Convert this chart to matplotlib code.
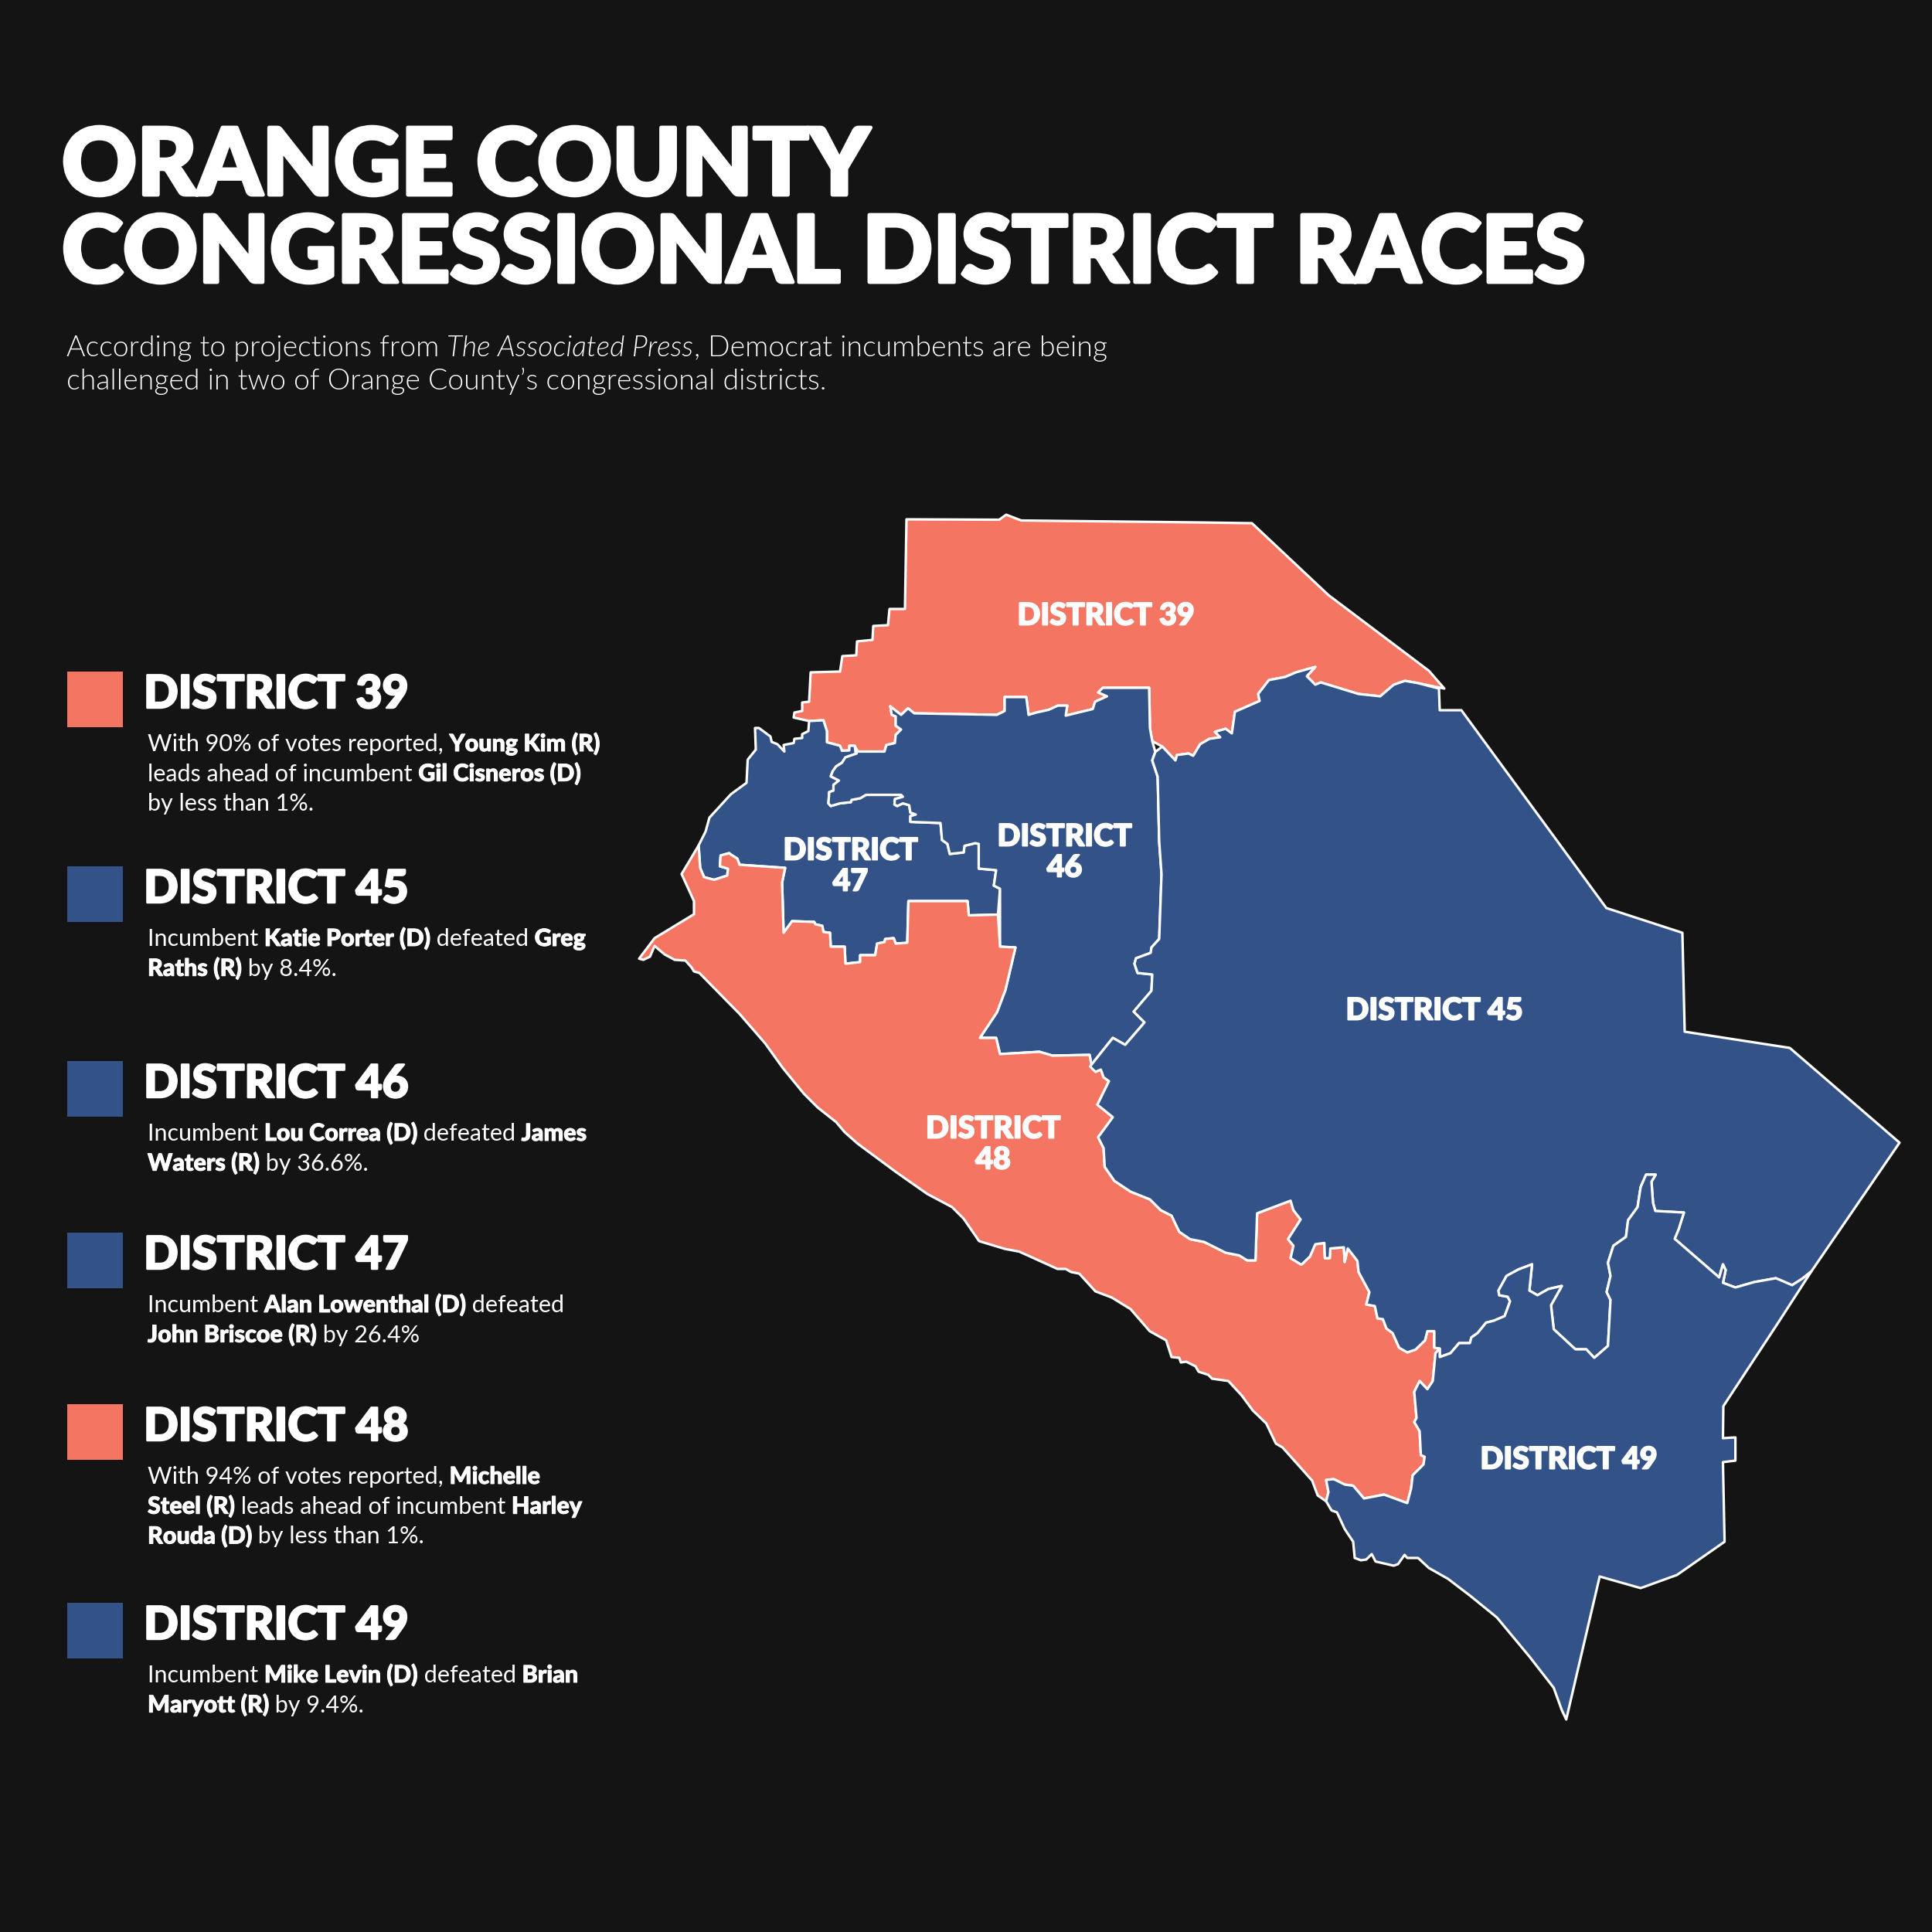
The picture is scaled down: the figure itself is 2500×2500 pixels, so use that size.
import matplotlib
matplotlib.use("Agg")
import matplotlib.pyplot as plt
import matplotlib.patheffects as pe
from matplotlib.patches import Polygon, Rectangle

BG = "#141414"; RED = "#F47562"; BLUE = "#335288"; WHITE = "#FFFFFF"
FONT = "Lato"

# --- boundary traces (reference pixel coordinates) ---
north_39 = [(1173,672),(1293,672.5),(1302,666),(1321.5,673.5),(1550,676),(1620,677),(1719,770),(1849,868),(1869,891)]
b39_45 = [(1835,884),(1818,881),(1803.5,886),(1786,901),(1758,898),(1709,883),(1702,886),(1691,875),(1702,863),(1677,870),
          (1663,876),(1642,880),(1628,898),(1630,907),(1598,921),(1594,949),(1586,943),(1572,947),(1579,954),(1565,956),
          (1553,963),(1544,978),(1538,975),(1523,977),(1521,984),(1504,966)]
b39_46 = [(1491,959),(1488,942),(1487,890),(1427,890),(1421,896),(1432.5,901),(1417,908),(1414,917.5),(1379,926),(1381,913),
          (1369,913),(1357,918.5),(1341,922),(1331,925),(1328,902),(1300,902),(1300,920),(1290,925),(1183,923),(1175,916.5),
          (1166,925),(1152,914),(1154,925),(1159,927),(1159,939),(1166,944),(1159,951),(1158,961.5),(1147,964),(1144.5,972.5),(1110,972.5)]
b39_47 = [(1106,965),(1099,965),(1099,971),(1089.5,971.5),(1087,965),(1070,960.5),(1070,946),(1065.5,932),(1047,933)]
west_39 = [(1027,928.5),(1028,922),(1038,920),(1038,909),(1047,908),(1049,870),(1087,869),(1090,849),(1108,848),(1109,830),
           (1129,828),(1130,810),(1149,809),(1151,788),(1171,788)]
west_47 = [(1046,946),(1038,950),(1038,955),(1028,956),(1027,961.5),(1014,964),(1015,972.5),(1006,963),(998.5,960),(997,953),
           (982,942),(977,942),(978,970),(967.5,983),(966,1013),(946,1027.5),(918,1058),(913,1076),(904,1094)]
b47_48 = [(906,1123),(911,1135),(924,1138.5),(941,1133),(942,1124),(931.5,1121),(932.5,1107),(943.5,1104),(946,1106),(954,1111),
          (957,1119),(1016,1123),(1012,1142),(1014,1207),(1025,1192),(1053.6,1193),(1055,1196),(1064,1198),(1065.5,1206),(1074,1207),
          (1075,1225),(1093,1225),(1094,1247),(1113,1245),(1113,1236),(1132.5,1236),(1135,1221),(1144.5,1219),(1145.5,1215),
          (1156.5,1214),(1159,1221),(1174,1220),(1175.5,1166),(1252,1166),(1253.6,1184.5),(1291.4,1183.5)]
b46_47 = [(1294,1150),(1286,1146),(1289,1126),(1266.5,1124),(1266.5,1092),(1262,1091),(1248,1094.5),(1247,1103),(1229,1105),
          (1226,1092),(1219,1087),(1217,1065),(1178,1063.5),(1178,1056),(1185,1054),(1178,1051.5),(1176.5,1042),(1168.4,1039.5),
          (1161,1043),(1157.4,1041),(1158,1034),(1168.4,1031),(1166,1028.5),(1120.6,1028.5),(1113,1033),(1102,1035),(1101,1038),
          (1087,1039.5),(1075,1043),(1072,1039.5),(1073,1025),(1078.5,1023),(1078.5,1015.6),(1085.6,1010),(1075,1004.6),(1077.5,998),
          (1082,991.7),(1089.5,987),(1094,980),(1108.6,975),(1107,972.5)]
b46_48 = [(1294,1225),(1314,1226),(1301,1281),(1290,1310),(1268,1343),(1289,1343),(1294,1364),(1345,1361),(1362,1366),(1410,1365),(1412.4,1379)]
b45_46 = [(1495,973),(1491,984),(1498,1005),(1500,1089),(1503,1131),(1500,1215),(1490,1226),(1489,1233),(1470,1240),(1468,1247),
          (1472,1259),(1491,1261),(1490,1282),(1467,1309),(1481,1323),(1456,1352),(1440,1343),(1410.5,1380)]
b45_48 = [(1417.5,1387),(1424.5,1384),(1428,1394),(1435,1399),(1420,1429.5),(1440,1445.6),(1421,1471.6),(1428,1485.6),(1429.5,1510),
          (1442,1528),(1463,1542),(1488,1552),(1502,1566),(1516,1573),(1526,1594),(1540,1603.5),(1558,1607),(1586,1621),(1603.5,1624.5),
          (1614,1631),(1624.6,1631),(1626.7,1570),(1670,1553.7),(1673.7,1566),(1683,1578),(1666.7,1603.5),(1673.7,1612),(1670,1628),
          (1684,1636.5),(1695,1626),(1702,1610),(1713.7,1608.4),(1714.4,1628),(1720.7,1628),(1721.4,1615.5),(1739,1614),(1740,1633),
          (1744,1615.5),(1756.5,1631.6),(1758,1646),(1772,1672),(1768,1688),(1779,1690),(1782.5,1706),(1789.5,1707),(1794,1719),
          (1802,1725),(1810.5,1744),(1821,1750),(1831.6,1746.4),(1844,1734.4),(1847,1722.5),(1856,1722.5),(1856,1744),(1863,1745)]
b48_49 = [(1857.5,1751),(1854,1787),(1847,1797.6),(1837,1787),(1830,1801),(1833,1835),(1830,1840),(1837,1852),(1838.6,1883),
          (1843.5,1885),(1842,1895),(1828,1909),(1826,1926),(1821,1945),(1791,1934),(1765,1939),(1751,1922.5),(1740,1921),(1726,1914),
          (1716,1915),(1719,1930.6),(1716,1942.6)]
coast_48 = [(882,1131),(898,1166),(898,1183),(847,1214),(827,1240.5),(832.5,1242),(841,1238),(847,1224),(860,1235),(873,1242),(887,1243),
            (895,1252),(898,1257),(905,1259),(957,1312),(990,1350),(1013,1382),(1040,1415),(1058,1433),(1082,1452),(1093,1465),(1110,1480),
            (1160,1517),(1200,1545),(1232,1562),(1247,1577),(1267,1606),(1300,1616),
            (1319,1619.6),(1368.4,1642),(1379,1642),(1386,1646),(1396.5,1648),(1417.5,1671),(1438.6,1679),(1463,1694),
            (1487.7,1722.5),(1509,1734.4),(1516,1756),(1526,1757),(1528,1763),(1535,1762),(1547,1768),(1551,1775),(1563.5,1779),
            (1568.4,1784),(1589.5,1787),(1607,1806),(1621,1825),(1638.6,1842),(1651,1868),(1659.6,1873),(1698,1916),(1705,1935)]
coast_49 = [(1723,1954.5),(1730,1957),(1740,1978.5),(1751,1995),(1753,2016),(1761,2019),(1768,2018),(1775,2011),(1780,2020.6),
            (1803.5,2026),(1809,2024),(1817.5,2012),(1821,2016),(1835,2016),(1849,2029),(1873.7,2043),(1902,2064.6),(1937,2093),
            (1979,2143.5),(2010.5,2184),(2021,2213),(2026.7,2225),(2040.7,2165),(2070,2040),(2123,2055),(2170,2038),(2231.6,1995),
            (2229.5,1892),(2245.6,1890),(2245.6,1860),(2229.5,1861),(2230,1819.6),(2300,1713)]
b45_49 = [(1863,1756),(1877,1751),(1888,1738),(1902,1738),(1904,1730.6),(1912,1725),(1923,1711.5),(1933,1709),(1947,1703),(1954,1684),
          (1951,1678),(1940,1676),(1939,1670),(1949.5,1651),(1965,1642.6),(1982.5,1636),(1979,1670),(1989.5,1676),(2003.5,1668),(2021,1664),
          (2007,1689),(2010.5,1720),(2038.6,1746),(2052.6,1746),(2063,1757),(2080.7,1741.6),(2084,1682),(2079,1672),(2084,1651),(2080.7,1634),
          (2087.7,1612),(2104,1600.5),(2106.7,1579),(2119,1562),(2123,1536),(2130,1520),(2142.5,1520),(2137,1529),(2139,1556.5),(2142,1567),
          (2179,1569),(2172,1591),(2167,1603),(2224.6,1653),(2229.5,1636),(2233,1643.5),(2229.5,1660),(2245.6,1666),(2270,1659),(2298,1654),
          (2319,1663),(2333,1654),(2344,1645)]
east_45 = [(1862,891),(1863,919),(1891,919),(2078.6,1175),(2177,1207),(2180,1335),(2316,1356),(2458,1478.6)]

def rev(s):
    return list(reversed(s))

district_shapes = {
    "39": north_39 + b39_45 + b39_46 + b39_47 + west_39,
    "47": b39_47 + west_47 + b47_48 + b46_47,
    "46": b39_46 + rev(b46_47) + b46_48 + rev(b45_46),
    "48": [(904,1094)] + coast_48 + [(1716,1942.6)] + rev(b48_49) + rev(b45_48) + rev(b46_48) + rev(b47_48),
    "45": rev(b39_45) + east_45 + rev(b45_49) + [(1863,1745)] + rev(b45_48) + rev(b45_46),
    "49": [(1863,1745)] + b45_49 + rev(coast_49) + rev(b48_49),
}
district_colors = {"39": RED, "45": BLUE, "46": BLUE, "47": BLUE, "48": RED, "49": BLUE}

title_lines = ["ORANGE COUNTY", "CONGRESSIONAL DISTRICT RACES"]
subtitle_lines = [
    [("According to projections from ", "l"), ("The Associated Press", "i"), (", Democrat incumbents are being", "l")],
    [("challenged in two of Orange County\u2019s congressional districts.", "l")],
]
legend_names = ["DISTRICT 39", "DISTRICT 45", "DISTRICT 46", "DISTRICT 47", "DISTRICT 48", "DISTRICT 49"]
legend_keys = ["39", "45", "46", "47", "48", "49"]
legend_tops = [869, 1121, 1373, 1595, 1817, 2074]
legend_body = [
    [[("With 90% of votes reported, ", "r"), ("Young Kim (R)", "b")],
     [("leads ahead of incumbent ", "r"), ("Gil Cisneros (D)", "b")],
     [("by less than 1%.", "r")]],
    [[("Incumbent ", "r"), ("Katie Porter (D)", "b"), (" defeated ", "r"), ("Greg", "b")],
     [("Raths (R)", "b"), (" by 8.4%.", "r")]],
    [[("Incumbent ", "r"), ("Lou Correa (D)", "b"), (" defeated ", "r"), ("James", "b")],
     [("Waters (R)", "b"), (" by 36.6%.", "r")]],
    [[("Incumbent ", "r"), ("Alan Lowenthal (D)", "b"), (" defeated", "r")],
     [("John Briscoe (R)", "b"), (" by 26.4%", "r")]],
    [[("With 94% of votes reported, ", "r"), ("Michelle", "b")],
     [("Steel (R)", "b"), (" leads ahead of incumbent ", "r"), ("Harley", "b")],
     [("Rouda (D)", "b"), (" by less than 1%.", "r")]],
    [[("Incumbent ", "r"), ("Mike Levin (D)", "b"), (" defeated ", "r"), ("Brian", "b")],
     [("Maryott (R)", "b"), (" by 9.4%.", "r")]],
]
map_labels = [("DISTRICT 39", 1431, 797), ("DISTRICT", 1100.5, 1101), ("47", 1100.5, 1141),
              ("DISTRICT", 1377.5, 1083), ("46", 1377.5, 1123), ("DISTRICT 45", 1856, 1308),
              ("DISTRICT", 1285, 1461), ("48", 1285, 1501), ("DISTRICT 49", 2030, 1889)]

fig = plt.figure(figsize=(25, 25), dpi=100, facecolor=BG)
ax = fig.add_axes([0, 0, 1, 1])
ax.set_xlim(0, 2500); ax.set_ylim(2500, 0); ax.axis("off")

def heavy(lw):
    return [pe.withStroke(linewidth=lw, foreground=WHITE)]

for key, pts in district_shapes.items():
    ax.add_patch(Polygon(pts, closed=True, facecolor=district_colors[key], edgecolor=WHITE,
                         linewidth=2.3, joinstyle="round", zorder=2))

for txt, x, y in map_labels:
    ax.text(x, y, txt, color=WHITE, fontfamily=FONT, fontweight=900, fontsize=28.3,
            ha="center", va="center", zorder=5, path_effects=heavy(1.4))

renderer = fig.canvas.get_renderer()
STY = {"l": dict(fontweight=300), "i": dict(fontweight=300, fontstyle="italic"),
       "r": dict(fontweight=400), "b": dict(fontweight=900)}

def run_width(s, size, sty):
    a = ax.text(0, 0, "|" + s + "|", fontfamily=FONT, fontsize=size, **STY[sty])
    b = ax.text(0, 0, "||", fontfamily=FONT, fontsize=size, **STY[sty])
    w = a.get_window_extent(renderer).width - b.get_window_extent(renderer).width
    a.remove(); b.remove()
    return w

def rich(x, y, runs, size):
    for s, sty in runs:
        t = ax.text(x, y, s, color=WHITE, fontfamily=FONT, fontsize=size, ha="left", va="baseline", **STY[sty])
        if sty == "b":
            t.set_path_effects(heavy(0.7))
        x += run_width(s, size, sty)

for line, base in zip(title_lines, [252, 365]):
    ax.text(80, base, line, color=WHITE, fontfamily=FONT, fontweight=900, fontsize=86.3,
            va="baseline", ha="left", path_effects=heavy(3.5))

for line, base in zip(subtitle_lines, [461, 504]):
    rich(86, base, line, 26.9)

for name, key, top, body in zip(legend_names, legend_keys, legend_tops, legend_body):
    ax.add_patch(Rectangle((87, top), 72, 72, facecolor=district_colors[key], edgecolor="none"))
    ax.text(186, top + 47, name, color=WHITE, fontfamily=FONT, fontweight=900, fontsize=42.3,
            va="baseline", ha="left", path_effects=heavy(1.8))
    for i, line in enumerate(body):
        rich(191, top + 103 + i * 38.7, line, 22)

fig.savefig("out.png", dpi=100, facecolor=BG)
